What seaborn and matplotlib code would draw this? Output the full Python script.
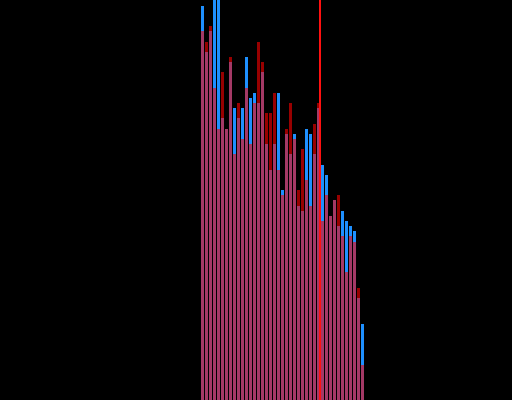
import numpy as np
import matplotlib
matplotlib.use("Agg")
import matplotlib.pyplot as plt
import seaborn as sns

# bar heights (0-400 scale, bottom = 0)
bins = list(range(41))
blue_counts = [394, 348, 369, 425, 425, 282, 271, 338, 292, 282,
               292, 343, 302, 307, 297, 328, 256, 230, 256, 307,
               210, 266, 246, 266, 194, 189, 271, 266, 246, 292,
               235, 225, 184, 200, 174, 189, 179, 174, 169, 102, 76]
red_counts = [369, 358, 374, 312, 271, 328, 271, 343, 246, 297,
              261, 312, 256, 297, 358, 338, 287, 287, 307, 230,
              205, 271, 297, 261, 210, 251, 220, 194, 276, 297,
              179, 205, 184, 200, 205, 164, 128, 164, 158, 112, 35]
marker_x = 29.375

sns.set_style("dark")
fig = plt.figure(figsize=(5.12, 4), dpi=100, facecolor="black")
ax = fig.add_axes([0, 0, 1, 1])
ax.set_facecolor("black")

sns.barplot(x=bins, y=blue_counts, color="#1e90ff", saturation=1,
            width=0.75, linewidth=0, ax=ax)
sns.barplot(x=bins, y=red_counts, color="#ff0000", saturation=1,
            width=0.75, linewidth=0, alpha=0.6, ax=ax)
ax.axvline(marker_x, color="#ff1010", linewidth=1.44)

ax.set_xlim(-50.625, 77.375)
ax.set_ylim(0, 400)
ax.set_axis_off()

fig.savefig("out.png", dpi=100, facecolor="black")
